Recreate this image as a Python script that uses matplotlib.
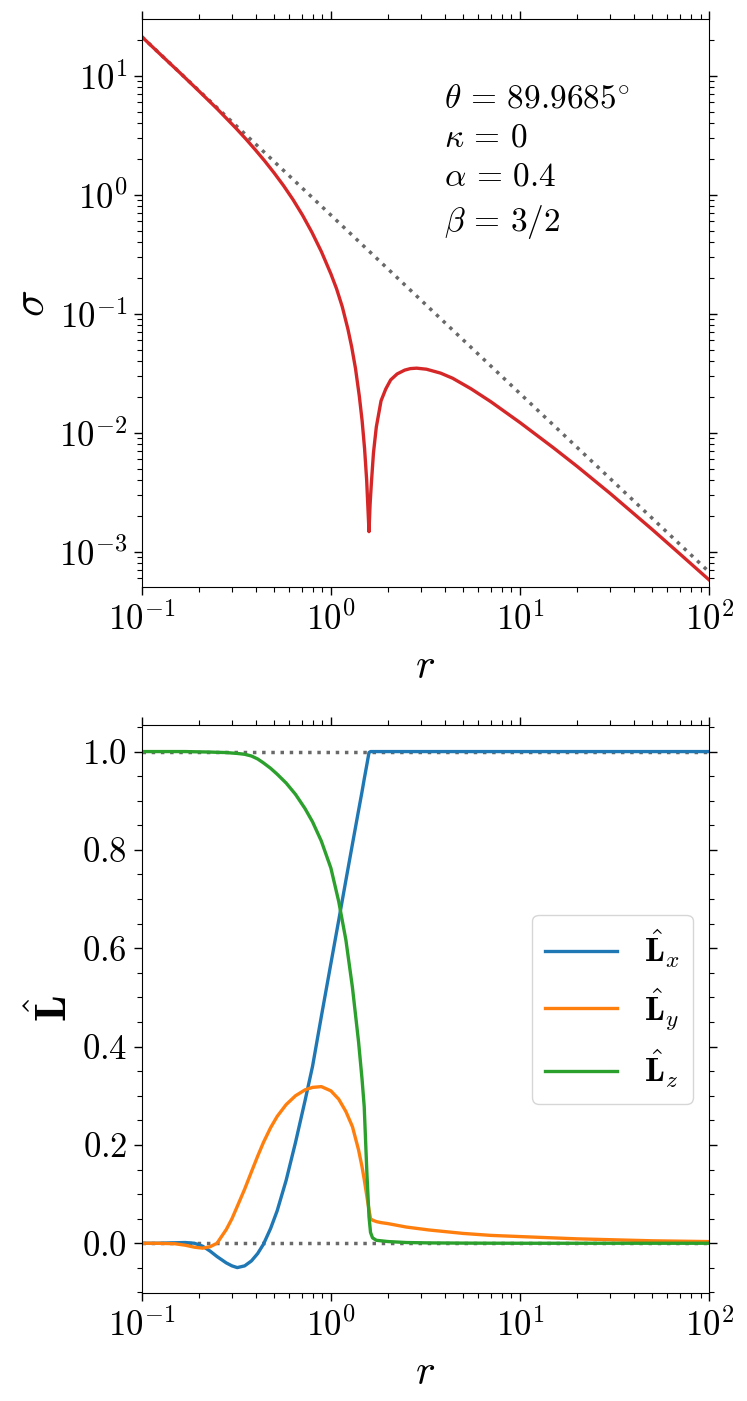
import numpy as np
import matplotlib
matplotlib.use("Agg")
import matplotlib.pyplot as plt
from matplotlib.ticker import MultipleLocator

plt.rcParams['font.family'] = 'serif'
plt.rcParams['font.serif'] = ['cmr10', 'DejaVu Serif']
plt.rcParams['mathtext.fontset'] = 'cm'
plt.rcParams['axes.formatter.use_mathtext'] = True

# top panel: surface density
r_sig = [0.1, 0.1259, 0.1585, 0.1995, 0.2512, 0.3162, 0.3548, 0.3981, 0.4467, 0.5012,
         0.5623, 0.631, 0.7079, 0.7943, 0.8913, 1.0, 1.0715, 1.1482, 1.2303, 1.2882,
         1.349, 1.4125, 1.4622, 1.5066, 1.5453, 1.5704, 1.5901, 1.611, 1.637, 1.679,
         1.738, 1.841, 1.95, 2.07, 2.239, 2.455, 2.63, 2.84, 3.2, 3.8, 4.4, 5.5, 7, 10,
         15, 20, 30, 50, 70, 100]
sigma = [21.4, 15.1, 10.7, 7.53, 5.27, 3.61, 2.96, 2.40, 1.93, 1.53,
         1.195, 0.912, 0.676, 0.484, 0.333, 0.217, 0.1626, 0.1151, 0.0745, 0.0527,
         0.0348, 0.0205, 0.01265, 0.00738, 0.00402, 0.00229, 0.00148, 0.0025, 0.0038,
         0.0068, 0.0112, 0.0186, 0.0234, 0.0279, 0.0313, 0.0337, 0.0347, 0.0350, 0.0343,
         0.0318, 0.0288, 0.0235, 0.0183, 0.0122, 0.0075, 0.00524, 0.00309, 0.00154,
         0.00096, 0.00058]
r_ref = [0.1, 100]
sigma_ref = [21.4, 6.76e-4]

# bottom panel: unit angular momentum vector
r_L = [0.1, 0.12, 0.15, 0.17, 0.19, 0.21, 0.23, 0.25, 0.28, 0.3, 0.32, 0.35, 0.38, 0.41,
       0.44, 0.48, 0.52, 0.58, 0.65, 0.73, 0.8, 0.89, 1.0, 1.1, 1.2, 1.3, 1.4, 1.46,
       1.5, 1.55, 1.59, 1.62, 1.66, 1.74, 1.84, 2.0, 2.5, 3.3, 5, 7, 10, 20, 33, 50, 100]
Lx = [0.0, 0.0, 0.001, 0.0015, 0.0, -0.006, -0.016, -0.027, -0.040, -0.046, -0.0495,
      -0.046, -0.036, -0.021, -0.002, 0.03, 0.066, 0.128, 0.205, 0.29, 0.36, 0.461, 0.569,
      0.657, 0.738, 0.812, 0.88, 0.918, 0.944, 0.974, 0.998, 1.0, 1.0, 1.0, 1.0, 1.0,
      1.0, 1.0, 1.0, 1.0, 1.0, 1.0, 1.0, 1.0, 1.0]
Ly = [0.0, 0.0, -0.001, -0.004, -0.008, -0.010, -0.007, 0.0, 0.028, 0.05, 0.075, 0.11,
      0.145, 0.177, 0.205, 0.235, 0.258, 0.282, 0.300, 0.312, 0.317, 0.3186, 0.31, 0.293,
      0.268, 0.237, 0.19, 0.156, 0.13, 0.095, 0.068, 0.05, 0.047, 0.044, 0.042, 0.040,
      0.033, 0.027, 0.02, 0.016, 0.0136, 0.009, 0.0068, 0.005, 0.0034]
Lz = [1.0, 1.0, 1.0, 1.0, 0.9996, 0.9993, 0.999, 0.9985, 0.998, 0.997, 0.9962, 0.9945,
      0.991, 0.985, 0.977, 0.966, 0.954, 0.936, 0.913, 0.884, 0.857, 0.818, 0.763, 0.695,
      0.617, 0.52, 0.41, 0.335, 0.278, 0.142, 0.054, 0.022, 0.011, 0.006, 0.005, 0.0035,
      0.0015, 0.0007, 0.0003, 0.0001, 0.0, 0.0, 0.0, 0.0, 0.0]

fig = plt.figure(figsize=(7.47, 14.01), dpi=100)
ax1 = fig.add_axes([0.1897, 0.5808, 0.7598, 0.4054])
ax2 = fig.add_axes([0.1897, 0.0769, 0.7598, 0.4056])

lw = 2.4
ax1.plot(r_ref, sigma_ref, ':', color='dimgray', lw=2.5)
ax1.plot(r_sig, sigma, color='tab:red', lw=lw)
ax1.set_xscale('log')
ax1.set_yscale('log')
ax1.set_xlim(0.1, 100)
ax1.set_ylim(5.04e-4, 29.9)
ax1.set_xlabel(r'$r$', fontsize=30)
ax1.set_ylabel(r'$\sigma$', fontsize=32)
ax1.text(0.532, 0.885,
         '$\\theta \\,=\\, 89.9685^{\\circ}$\n$\\kappa \\,=\\, 0$\n'
         '$\\alpha \\,=\\, 0.4$\n$\\beta \\,=\\, 3/2$',
         transform=ax1.transAxes, fontsize=24, va='top', ha='left', linespacing=1.42)

ax2.plot([0.1, 100], [0, 0], ':', color='dimgray', lw=2.5)
ax2.plot([0.1, 100], [1, 1], ':', color='dimgray', lw=2.5)
ax2.plot(r_L, Lx, color='tab:blue', lw=lw, label=r'$\hat{\mathbf{L}}_x$')
ax2.plot(r_L, Ly, color='tab:orange', lw=lw, label=r'$\hat{\mathbf{L}}_y$')
ax2.plot(r_L, Lz, color='tab:green', lw=lw, label=r'$\hat{\mathbf{L}}_z$')
ax2.set_xscale('log')
ax2.set_xlim(0.1, 100)
ax2.set_ylim(-0.1017, 1.054)
ax2.yaxis.set_major_locator(MultipleLocator(0.2))
ax2.yaxis.set_minor_locator(MultipleLocator(0.05))
ax2.set_xlabel(r'$r$', fontsize=30)
ax2.set_ylabel(r'$\hat{\mathbf{L}}$', fontsize=32)
ax2.legend(loc='center right', fontsize=24, handlelength=2.15)

for ax in (ax1, ax2):
    ax.tick_params(which='both', direction='out', top=True, right=True, labelsize=25)
    ax.tick_params(which='major', length=5.5, width=1, pad=5)
    ax.tick_params(which='minor', length=3.5, width=0.8)
    ax.xaxis.labelpad = 8

fig.savefig('out.png', dpi=100)
